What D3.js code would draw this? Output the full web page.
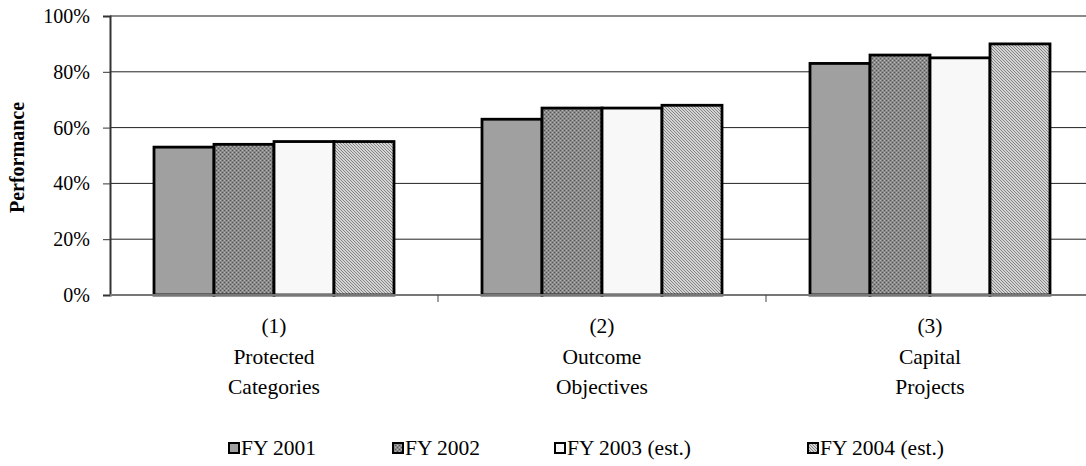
<!DOCTYPE html>
<html><head><meta charset="utf-8">
<script src="https://cdn.jsdelivr.net/npm/d3@7"></script>
<style>body{margin:0;background:#fff;} svg{display:block;}</style>
</head><body>
<svg id="chart" width="1086" height="466"></svg>
<script>
const categories = [["(1)","Protected","Categories"],["(2)","Outcome","Objectives"],["(3)","Capital","Projects"]];
const seriesNames = ["FY 2001","FY 2002","FY 2003 (est.)","FY 2004 (est.)"];
const fy2001 = [53, 63, 83];
const fy2002 = [54, 67, 86];
const fy2003 = [55, 67, 85];
const fy2004 = [55, 68, 90];
const yTicks = [0, 20, 40, 60, 80, 100];
const seriesValues = [fy2001, fy2002, fy2003, fy2004];

const svg = d3.select("#chart");
const FONT = '"Liberation Serif", "Times New Roman", Tinos, serif';
const m = {left:110, top:16, right:-8, bottom:171};
const W = 1086, H = 466;
const x0 = d3.scaleBand().domain(d3.range(categories.length)).range([m.left, W - m.right]).paddingInner(0).paddingOuter(0);
const x1 = d3.scaleBand().domain(d3.range(seriesNames.length)).range([44, x0.bandwidth()-44]);
const y = d3.scaleLinear().domain([0,100]).range([H - m.bottom, m.top]);

const defs = svg.append("defs");
const p2 = defs.append("pattern").attr("id","pat2").attr("patternUnits","userSpaceOnUse").attr("width",4).attr("height",4);
p2.append("rect").attr("width",4).attr("height",4).attr("fill","#8a8a8a");
p2.append("rect").attr("x",0).attr("y",0).attr("width",1).attr("height",1).attr("fill","#555");
p2.append("rect").attr("x",2).attr("y",2).attr("width",1).attr("height",1).attr("fill","#555");
p2.append("rect").attr("x",2).attr("y",0).attr("width",1).attr("height",1).attr("fill","#b4b4b4");
p2.append("rect").attr("x",0).attr("y",2).attr("width",1).attr("height",1).attr("fill","#b4b4b4");
const p4 = defs.append("pattern").attr("id","pat4").attr("patternUnits","userSpaceOnUse").attr("width",3).attr("height",3);
p4.append("rect").attr("width",3).attr("height",3).attr("fill","#d4d4d4");
p4.append("path").attr("d","M0,0 L3,3 M-1,2 L1,4 M2,-1 L4,1").attr("stroke","#7a7a7a").attr("stroke-width",0.9);
const fills = ["#a0a0a0","url(#pat2)","#f8f8f8","url(#pat4)"];

// gridlines
svg.append("g").selectAll("line").data(yTicks.filter(t=>t>0 && t<100)).join("line")
  .attr("x1", m.left).attr("x2", W).attr("y1", d=>y(d)).attr("y2", d=>y(d))
  .attr("stroke","#222").attr("stroke-width",1);
svg.append("line").attr("x1",m.left).attr("x2",W).attr("y1",y(100)).attr("y2",y(100))
  .attr("stroke","#8a8a8a").attr("stroke-width",2);

// bars
const groups = svg.append("g").selectAll("g").data(categories).join("g")
  .attr("transform",(d,i)=>`translate(${x0(i)},0)`);
groups.selectAll("rect").data((d,i)=>seriesValues.map((s,j)=>({j, v:s[i]}))).join("rect")
  .attr("x", d=>x1(d.j)).attr("width", x1.bandwidth())
  .attr("y", d=>y(d.v)).attr("height", d=>y(0)-y(d.v))
  .attr("fill", d=>fills[d.j]).attr("stroke","#000").attr("stroke-width",2.8);

// y axis
const yAxis = svg.append("g").attr("transform",`translate(${m.left},0)`)
  .call(d3.axisLeft(y).tickValues(yTicks).tickFormat(d=>d+"%").tickSize(7).tickPadding(13));
yAxis.select(".domain").attr("stroke","#333").attr("stroke-width",2);
yAxis.selectAll(".tick line").attr("stroke","#333");
yAxis.selectAll("text").style("font-family",FONT).style("font-size","20px").attr("fill","#000");

// x axis
svg.append("line").attr("x1",m.left).attr("x2",W).attr("y1",y(0)).attr("y2",y(0)).attr("stroke","#777").attr("stroke-width",2);
svg.append("g").selectAll("line").data(d3.range(1,categories.length)).join("line")
  .attr("x1",d=>x0(d)).attr("x2",d=>x0(d)).attr("y1",y(0)).attr("y2",y(0)+7).attr("stroke","#444");
const xl = svg.append("g").selectAll("text").data(categories).join("text")
  .attr("x",(d,i)=>x0(i)+x0.bandwidth()/2).attr("y",333)
  .attr("text-anchor","middle").style("font-family",FONT).style("font-size","21.5px").attr("fill","#000");
xl.selectAll("tspan").data(d=>d).join("tspan")
  .attr("x",function(){return d3.select(this.parentNode).attr("x");})
  .attr("dy",(d,k)=>k===0?0:30.5).text(d=>d);

// y title
svg.append("text").attr("transform",`translate(24,${(y(0)+y(100))/2+2}) rotate(-90)`)
  .attr("text-anchor","middle").style("font-family",FONT).style("font-size","20px").attr("font-weight","bold").text("Performance");

// legend
const legX = [229, 393, 555, 808];
const leg = svg.append("g").selectAll("g").data(seriesNames).join("g")
  .attr("transform",(d,i)=>`translate(${legX[i]},443)`);
leg.append("rect").attr("x",0).attr("y",0).attr("width",10).attr("height",10)
  .attr("fill",(d,i)=>fills[i]).attr("stroke","#000").attr("stroke-width",2);
leg.append("text").attr("x",12).attr("y",11.5).style("font-family",FONT).style("font-size","21.5px").text(d=>d);
</script>
</body></html>
